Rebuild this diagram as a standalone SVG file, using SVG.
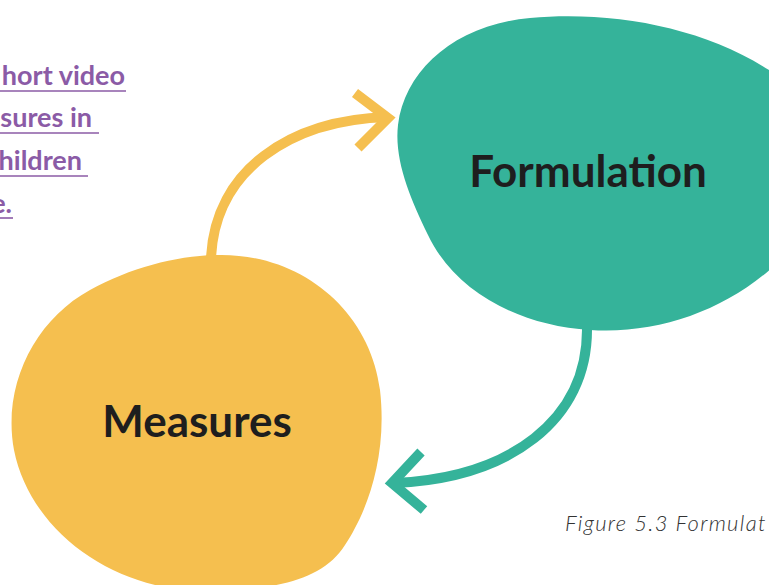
<svg xmlns="http://www.w3.org/2000/svg" width="769" height="585" viewBox="0 0 769 585">
<style>
.blob-y{fill:#F5BF4F}
.blob-g{fill:#35B39A}
.label{font-family:Lato,"Open Sans","Liberation Sans",sans-serif;font-weight:bold;font-size:44px;fill:#1E1E1E;text-anchor:middle}
.link{font-family:Lato,"Open Sans","Liberation Sans",sans-serif;font-weight:bold;font-size:27px;fill:#8B5BA6;text-anchor:end}
.ul{stroke:#8B5BA6;stroke-width:1.6}
.cap{font-family:Lato,"Open Sans","Liberation Sans",sans-serif;font-style:italic;font-weight:300;font-size:22px;letter-spacing:1.3px;fill:#333}
.arr{fill:none;stroke-width:10}
</style>
<rect width="769" height="585" fill="#fff"/>
<g id="link-text">
<text class="link" x="125" y="85">hort video</text>
<line class="ul" x1="0" y1="91" x2="126" y2="91"/>
<text class="link" x="92" y="127">sures in</text>
<line class="ul" x1="0" y1="133" x2="99" y2="133"/>
<text class="link" x="82" y="170">hildren</text>
<line class="ul" x1="0" y1="176" x2="88" y2="176"/>
<text class="link" x="12" y="213">e.</text>
<line class="ul" x1="0" y1="218" x2="13" y2="218"/>
</g>
<g id="measures">
<path class="blob-y" d="M215,255 C300,252 370,310 380,390 C388,460 365,515 345,545 C320,585 260,592 190,590 C110,586 30,530 14,450 C2,385 35,320 90,290 C130,268 175,256 215,255 Z"/>
<text class="label" x="197" y="437">Measures</text>
</g>
<g id="formulation">
<path class="blob-g" d="M398,125 C405,70 455,25 530,18 C620,10 720,30 790,85 L790,250 C740,305 665,335 590,330 C520,326 455,292 428,235 C410,198 394,160 398,125 Z"/>
<text class="label" x="588" y="187">Formulation</text>
</g>
<g id="connectors">
<path class="arr" stroke="#F5BF4F" d="M211,258 C215,170 290,120 388,117"/>
<path class="arr" stroke="#F5BF4F" d="M355,93 L388,118 L358,148"/>
<path class="arr" stroke="#35B39A" d="M587,328 C588,420 510,478 394,483"/>
<path class="arr" stroke="#35B39A" d="M421,452 L392,483 L424,510"/>
</g>
<text class="cap" x="565" y="531">Figure 5.3 Formulat</text>
</svg>
